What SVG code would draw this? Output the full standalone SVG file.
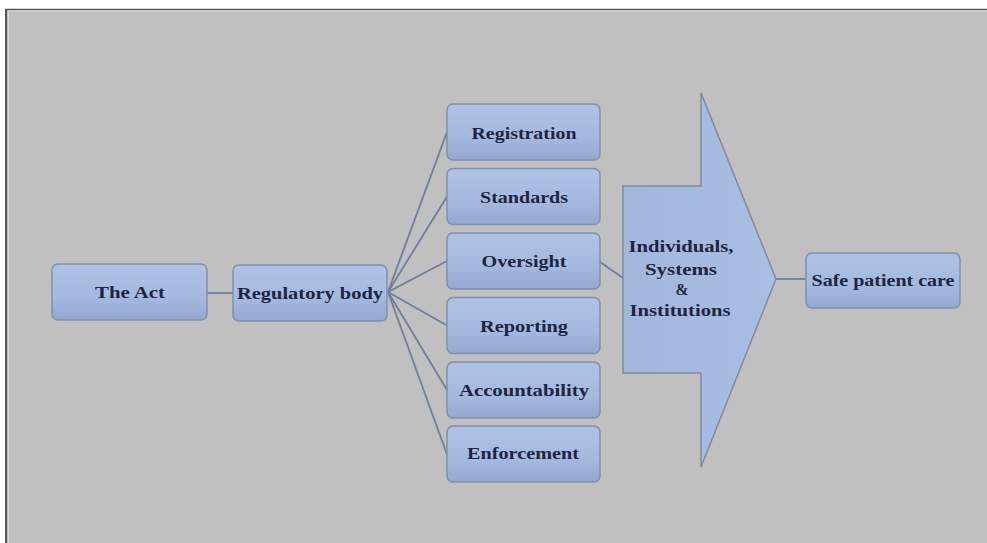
<svg xmlns="http://www.w3.org/2000/svg" width="987" height="543" viewBox="0 0 987 543">
<defs>
<linearGradient id="boxg" x1="0" y1="0" x2="0" y2="1">
<stop offset="0" stop-color="#afc2e6"/>
<stop offset="0.6" stop-color="#a5b9df"/>
<stop offset="1" stop-color="#93a8d2"/>
</linearGradient>
<linearGradient id="arrg" x1="0" y1="0" x2="1" y2="0">
<stop offset="0" stop-color="#a3b6dc"/>
<stop offset="1" stop-color="#aabde2"/>
</linearGradient>
<style>
.box{fill:url(#boxg);stroke:#8190aa;stroke-width:1.5}
.lbl{font-family:"Liberation Serif","Times New Roman",serif;font-weight:bold;font-size:17px;fill:#1d2543;text-anchor:middle}
.con{stroke:#6f7f99;stroke-width:1.8;fill:none}
</style>
</defs>
<rect x="0" y="0" width="987" height="543" fill="#ffffff"/>
<rect x="6" y="9" width="981" height="534" fill="#c0c0c0"/>
<line x1="5" y1="9.5" x2="987" y2="9.5" stroke="#555555" stroke-width="1.6"/>
<line x1="6" y1="9" x2="6" y2="543" stroke="#555555" stroke-width="2"/>
<line x1="8" y1="11" x2="987" y2="11" stroke="#dcdcdc" stroke-width="1"/>
<line x1="8.5" y1="11" x2="8.5" y2="543" stroke="#dcdcdc" stroke-width="1"/>

<g id="connectors">
<line class="con" x1="207" y1="293" x2="233" y2="293"/>
<line class="con" x1="388" y1="292" x2="447" y2="132"/>
<line class="con" x1="388" y1="292" x2="447" y2="196.5"/>
<line class="con" x1="388" y1="292" x2="447" y2="261"/>
<line class="con" x1="388" y1="292" x2="447" y2="325.5"/>
<line class="con" x1="388" y1="292" x2="447" y2="390"/>
<line class="con" x1="388" y1="292" x2="447" y2="454.5"/>
<line class="con" x1="600" y1="262" x2="623" y2="278"/>
<line class="con" x1="776" y1="279" x2="806" y2="279"/>
</g>

<g id="node-act">
<rect class="box" x="52" y="264" width="155" height="56" rx="6"/>
<text class="lbl" x="130" y="298" textLength="70" lengthAdjust="spacingAndGlyphs">The Act</text>
</g>
<g id="node-regulatory">
<rect class="box" x="233" y="265" width="154" height="56" rx="6"/>
<text class="lbl" x="310" y="299" textLength="146" lengthAdjust="spacingAndGlyphs">Regulatory body</text>
</g>
<g id="node-registration">
<rect class="box" x="447" y="104" width="153" height="56" rx="6"/>
<text class="lbl" x="524" y="139" textLength="105" lengthAdjust="spacingAndGlyphs">Registration</text>
</g>
<g id="node-standards">
<rect class="box" x="447" y="168.5" width="153" height="56" rx="6"/>
<text class="lbl" x="524" y="203" textLength="88" lengthAdjust="spacingAndGlyphs">Standards</text>
</g>
<g id="node-oversight">
<rect class="box" x="447" y="233" width="153" height="56" rx="6"/>
<text class="lbl" x="524" y="267" textLength="85" lengthAdjust="spacingAndGlyphs">Oversight</text>
</g>
<g id="node-reporting">
<rect class="box" x="447" y="297.5" width="153" height="56" rx="6"/>
<text class="lbl" x="524" y="332" textLength="88" lengthAdjust="spacingAndGlyphs">Reporting</text>
</g>
<g id="node-accountability">
<rect class="box" x="447" y="362" width="153" height="56" rx="6"/>
<text class="lbl" x="524" y="396" textLength="130" lengthAdjust="spacingAndGlyphs">Accountability</text>
</g>
<g id="node-enforcement">
<rect class="box" x="447" y="426" width="153" height="56" rx="6"/>
<text class="lbl" x="523" y="459" textLength="112" lengthAdjust="spacingAndGlyphs">Enforcement</text>
</g>
<g id="node-individuals">
<polygon points="701,93 776,279 701,467 701,373 623,373 623,186 701,186" fill="url(#arrg)" stroke="#7f8ba0" stroke-width="1.5"/>
<text class="lbl" x="681" y="252" textLength="105" lengthAdjust="spacingAndGlyphs">Individuals,</text>
<text class="lbl" x="681" y="275" textLength="72" lengthAdjust="spacingAndGlyphs">Systems</text>
<text class="lbl" x="682" y="295" font-size="15" textLength="13" lengthAdjust="spacingAndGlyphs">&amp;</text>
<text class="lbl" x="680" y="316" textLength="101" lengthAdjust="spacingAndGlyphs">Institutions</text>
</g>
<g id="node-safe">
<rect class="box" x="806" y="253" width="154" height="55" rx="6"/>
<text class="lbl" x="883" y="286" textLength="143" lengthAdjust="spacingAndGlyphs">Safe patient care</text>
</g>
</svg>
